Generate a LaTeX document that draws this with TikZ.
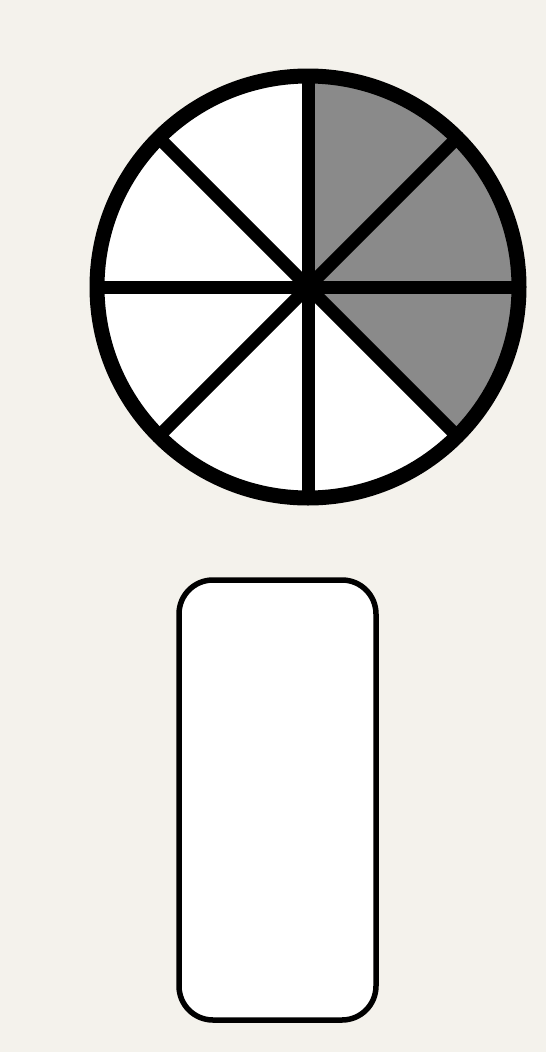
\documentclass[tikz,border=0pt]{standalone}
\usetikzlibrary{calc}
\definecolor{paper}{RGB}{244,242,236}
\definecolor{wedgegrey}{RGB}{138,138,138}
\begin{document}
\begin{tikzpicture}[x=1pt,y=-1pt,
  ring/.style={draw=black,line width=15pt},
  spoke/.style={draw=black,line width=13pt},
  cardbox/.style={draw=black,line width=5.5pt,fill=white,rounded corners=34pt}]
\fill[paper] (0,0) rectangle (546,1052);
\useasboundingbox (0,0) rectangle (546,1052);
\coordinate (c) at (308,287);
% white disc
\fill[white] (c) circle[radius=211];
% grey wedges
\fill[wedgegrey] (c) -- ++(-90:211) arc[start angle=-90,end angle=45,radius=211] -- cycle;
% spokes
\foreach \a in {0,45,90,135} {
  \draw[spoke] ($(c)+(\a:211)$) -- ($(c)+(\a+180:211)$);
}
\draw[ring] (c) circle[radius=211];
% rounded rectangle
\node[cardbox,minimum width=197pt,minimum height=440pt,inner sep=0pt] (card) at (277.5,800) {};
\end{tikzpicture}
\end{document}
